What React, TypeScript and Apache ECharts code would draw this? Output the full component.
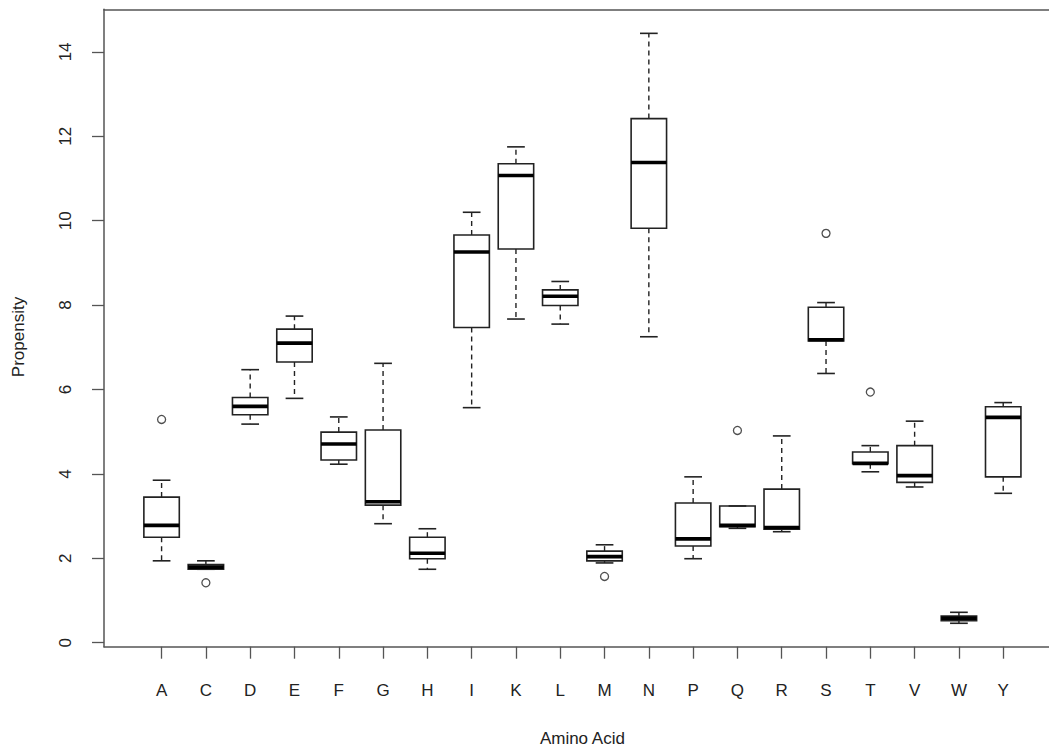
import React, { useEffect, useRef } from "react";
import * as echarts from "echarts";

const categories = ["A", "C", "D", "E", "F", "G", "H", "I", "K", "L", "M", "N", "P", "Q", "R", "S", "T", "V", "W", "Y"];
const lowWhisker = [1.94, 1.74, 5.18, 5.79, 4.23, 2.82, 1.74, 5.57, 7.67, 7.55, 1.89, 7.25, 1.99, 2.71, 2.63, 6.38, 4.05, 3.69, 0.46, 3.54];
const q1 = [2.5, 1.74, 5.4, 6.65, 4.33, 3.26, 1.99, 7.47, 9.33, 7.99, 1.94, 9.82, 2.29, 2.75, 2.69, 7.15, 4.24, 3.8, 0.52, 3.93];
const median = [2.78, 1.79, 5.6, 7.1, 4.71, 3.34, 2.12, 9.26, 11.07, 8.21, 2.04, 11.38, 2.46, 2.78, 2.73, 7.18, 4.25, 3.96, 0.58, 5.34];
const q3 = [3.45, 1.85, 5.81, 7.43, 4.99, 5.04, 2.5, 9.66, 11.35, 8.36, 2.17, 12.42, 3.31, 3.24, 3.64, 7.95, 4.52, 4.67, 0.63, 5.59];
const highWhisker = [3.85, 1.94, 6.47, 7.74, 5.35, 6.62, 2.7, 10.2, 11.75, 8.56, 2.32, 14.44, 3.93, 3.24, 4.9, 8.06, 4.67, 5.25, 0.72, 5.69];
const outlierCategories = ["A", "C", "M", "Q", "S", "T"];
const outlierValues = [5.29, 1.42, 1.57, 5.03, 9.7, 5.94];
const yTicks = [0, 2, 4, 6, 8, 10, 12, 14];

const FONT = "Liberation Sans";
const TEXT = "#222";
const LINE = "#222";
const AXIS = "#555";

export default function App() {
  const ref = useRef<HTMLDivElement>(null);
  useEffect(() => {
    document.body.style.margin = "0";
    document.body.style.overflow = "hidden";
    if (!ref.current) return;
    const chart = echarts.init(ref.current, undefined, { renderer: "svg" });
    const boxData = categories.map((c, i) => [i + 1, lowWhisker[i], q1[i], median[i], q3[i], highWhisker[i]]);
    const outData = outlierCategories.map((c, i) => [categories.indexOf(c) + 1, outlierValues[i]]);
    const xPositions = categories.map((c, i) => i + 1);

    chart.setOption({
      animation: false,
      backgroundColor: "#fff",
      grid: {
        left: 104,
        right: 14.2,
        top: 9.3,
        bottom: 105.3,
        show: false,
      },
      xAxis: [
        {
          type: "value",
          position: "bottom",
          min: -0.3,
          max: 21.3,
          name: "Amino Acid",
          nameLocation: "middle",
          nameGap: 83,
          nameTextStyle: { fontFamily: FONT, fontSize: 17, color: TEXT },
          splitLine: { show: false },
          axisLine: { show: true, onZero: false, lineStyle: { color: AXIS, width: 1.5 } },
          axisTick: {
            show: true,
            length: 12,
            customValues: xPositions,
            lineStyle: { color: AXIS, width: 1.3 },
          },
          axisLabel: {
            customValues: xPositions,
            margin: 35,
            fontFamily: FONT,
            fontSize: 17,
            color: TEXT,
            formatter: (v: number) => categories[Math.round(v) - 1] ?? "",
          },
        },
        {
          type: "value",
          position: "top",
          min: -0.3,
          max: 21.3,
          splitLine: { show: false },
          axisLine: { show: true, onZero: false, lineStyle: { color: AXIS, width: 1.5 } },
          axisTick: { show: false },
          axisLabel: { show: false },
        },
      ],
      yAxis: {
        type: "value",
        position: "left",
        min: -0.095,
        max: 15.01,
        name: "Propensity",
        nameLocation: "middle",
        nameRotate: 90,
        nameGap: 77,
        nameTextStyle: { fontFamily: FONT, fontSize: 17, color: TEXT, padding: [0, 18, 0, 0] },
        splitLine: { show: false },
        axisLine: { show: true, onZero: false, lineStyle: { color: AXIS, width: 1.5 } },
        axisTick: {
          show: true,
          length: 12,
          customValues: yTicks,
          lineStyle: { color: AXIS, width: 1.3 },
        },
        axisLabel: {
          customValues: yTicks,
          rotate: 90,
          margin: 30,
          fontFamily: FONT,
          fontSize: 17,
          color: TEXT,
        },
      },
      series: [
        {
          type: "custom",
          xAxisIndex: 0,
          data: boxData,
          encode: { x: 0, y: [1, 2, 3, 4, 5] },
          renderItem: (params: any, api: any) => {
            const x = api.value(0);
            const pLo = api.coord([x, api.value(1)]);
            const pQ1 = api.coord([x, api.value(2)]);
            const pMed = api.coord([x, api.value(3)]);
            const pQ3 = api.coord([x, api.value(4)]);
            const pHi = api.coord([x, api.value(5)]);
            const bw = api.size([0.8, 0])[0];
            const cw = bw / 2;
            const cx = pLo[0];
            const solid = { stroke: LINE, lineWidth: 1.6, fill: "none" };
            const dashed = { stroke: LINE, lineWidth: 1.4, lineDash: [5, 4] };
            return {
              type: "group",
              children: [
                { type: "line", shape: { x1: cx, y1: pQ3[1], x2: cx, y2: pHi[1] }, style: dashed },
                { type: "line", shape: { x1: cx, y1: pQ1[1], x2: cx, y2: pLo[1] }, style: dashed },
                { type: "line", shape: { x1: cx - cw / 2, y1: pHi[1], x2: cx + cw / 2, y2: pHi[1] }, style: solid },
                { type: "line", shape: { x1: cx - cw / 2, y1: pLo[1], x2: cx + cw / 2, y2: pLo[1] }, style: solid },
                {
                  type: "rect",
                  shape: { x: cx - bw / 2, y: pQ3[1], width: bw, height: pQ1[1] - pQ3[1] },
                  style: solid,
                },
                {
                  type: "line",
                  shape: { x1: cx - bw / 2, y1: pMed[1], x2: cx + bw / 2, y2: pMed[1] },
                  style: { stroke: "#000", lineWidth: 3.6 },
                },
              ],
            };
          },
        },
        {
          type: "scatter",
          xAxisIndex: 0,
          data: outData,
          symbol: "circle",
          symbolSize: 8,
          itemStyle: { color: "#fff", borderColor: LINE, borderWidth: 1.3 },
        },
      ],
    });
    return () => chart.dispose();
  }, []);
  return (
    <div style={{ width: 1049, height: 752, overflow: "hidden", position: "relative" }}>
      <div ref={ref} style={{ width: 1075, height: 752 }} />
    </div>
  );
}
